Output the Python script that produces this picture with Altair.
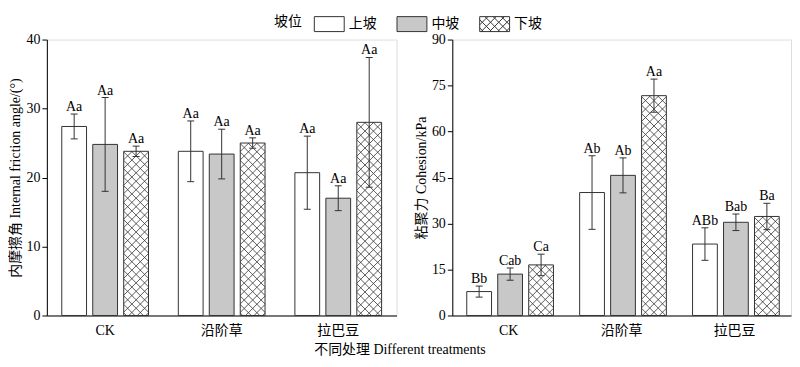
import altair as alt
import pandas as pd

treatments = ["CK", "沿阶草", "拉巴豆"]
slopes = ["上坡", "中坡", "下坡"]

friction_mean = [[27.4, 24.8, 23.8], [23.8, 23.4, 25.0], [20.7, 17.0, 28.0]]
friction_err = [[1.8, 6.8, 0.75], [4.4, 3.6, 0.75], [5.3, 1.8, 9.4]]
friction_lbl = [["Aa", "Aa", "Aa"], ["Aa", "Aa", "Aa"], ["Aa", "Aa", "Aa"]]

cohesion_mean = [[7.8, 13.5, 16.5], [40.1, 45.7, 71.7], [23.3, 30.4, 32.3]]
cohesion_err = [[1.8, 2.0, 3.5], [12.0, 5.7, 5.4], [5.3, 2.7, 4.3]]
cohesion_lbl = [["Bb", "Cab", "Ca"], ["Ab", "Ab", "Aa"], ["ABb", "Bab", "Ba"]]

SERIF = "Liberation Serif, Noto Sans CJK SC"
CJK = "Noto Sans CJK SC"
EDGE = "#333333"


def hatch_lines(x0, x1, y0, y1, s):
    segs = []
    c = (y0 - x1)
    while c <= (y1 - x0):
        a, b = max(x0, y0 - c), min(x1, y1 - c)
        if b > a:
            segs.append((a, a + c, b, b + c))
        c += s
    c = (y0 + x0)
    while c <= (y1 + x1):
        a, b = max(x0, c - y1), min(x1, c - y0)
        if b > a:
            segs.append((a, c - a, b, c - b))
        c += s
    return "".join(f"M{p:.2f},{q:.2f}L{r:.2f},{t:.2f}" for p, q, r, t in segs)


RECT = "M-1,-0.5H1V0.5H-1Z"
LEGEND_HATCH = RECT + hatch_lines(-1, 1, -0.5, 0.5, 0.55)


def make_df(means, errs, lbls):
    rows = []
    for i, t in enumerate(treatments):
        for j, s in enumerate(slopes):
            m, e = means[i][j], errs[i][j]
            rows.append(dict(treatment=t, slope=s, mean=m, lo=m - e, hi=m + e, lbl=lbls[i][j]))
    return pd.DataFrame(rows)


def panel(df, ytitle, ymax, ystep, width, height):
    bar_w = (width / 3 * (1 - 0.256)) / (3 - 0.2) * 0.8
    plot_hatch = hatch_lines(-bar_w / 2, bar_w / 2, 0, 400, 8.5)
    x = alt.X("treatment:N", sort=treatments,
              scale=alt.Scale(domain=treatments, paddingInner=0.256, paddingOuter=0.128),
              axis=alt.Axis(title=None, labelAngle=0, ticks=False, domainColor="black",
                            labelFont=SERIF, labelFontSize=14, labelColor="black", labelPadding=8))
    xo = alt.XOffset("slope:N", sort=slopes, scale=alt.Scale(domain=slopes, paddingInner=0.2))
    y = alt.Y("mean:Q", scale=alt.Scale(domain=[0, ymax], nice=False),
              axis=alt.Axis(title=ytitle, values=list(range(0, ymax + 1, ystep)), grid=False,
                            domainColor="black", tickColor="black", tickSize=5,
                            labelFont=SERIF, labelFontSize=14, labelColor="black", labelPadding=2,
                            titleFont=SERIF, titleFontSize=14, titleFontWeight="normal",
                            titleColor="black", titlePadding=3))
    base = alt.Chart(df)
    legend = alt.Legend(title="坡位", orient="none", legendX=228, legendY=-31,
                        direction="horizontal", titleOrient="left",
                        titleFont=CJK, titleFontSize=14, titleFontWeight="normal",
                        titleColor="black", titlePadding=12,
                        labelFont=CJK, labelFontSize=14, labelColor="black",
                        labelOffset=4, columnPadding=18, symbolSize=900,
                        symbolStrokeWidth=1, symbolOpacity=1)
    fill = alt.Fill("slope:N", sort=slopes,
                    scale=alt.Scale(domain=slopes, range=["white", "#c8c8c8", "white"]),
                    legend=legend)
    shape = alt.Shape("slope:N", sort=slopes,
                      scale=alt.Scale(domain=slopes, range=[RECT, RECT, LEGEND_HATCH]),
                      legend=legend)
    stroke = alt.Stroke("slope:N", sort=slopes,
                        scale=alt.Scale(domain=slopes, range=[EDGE, EDGE, EDGE]),
                        legend=legend)
    bars = base.mark_bar(stroke=EDGE, strokeWidth=1).encode(x=x, xOffset=xo, y=y, fill=fill)
    legend_layer = base.mark_point(filled=True, opacity=0, strokeWidth=1).encode(
        x=x, xOffset=xo, y="mean:Q", fill=fill, shape=shape, stroke=stroke)
    hatch = base.transform_filter(alt.datum.slope == "下坡").mark_point(
        shape=plot_hatch, size=4, filled=False, stroke=EDGE, strokeWidth=0.8,
        opacity=1, clip=True).encode(x=x, xOffset=xo, y="mean:Q")
    rule = base.mark_rule(color=EDGE, strokeWidth=1).encode(x=x, xOffset=xo, y="lo:Q", y2="hi:Q")
    cap_hi = base.mark_tick(color=EDGE, size=7, thickness=1, orient="horizontal", opacity=1).encode(
        x=x, xOffset=xo, y="hi:Q")
    cap_lo = base.mark_tick(color=EDGE, size=7, thickness=1, orient="horizontal", opacity=1).encode(
        x=x, xOffset=xo, y="lo:Q")
    text = base.mark_text(baseline="alphabetic", dy=-3, font=SERIF, fontSize=14, color="black").encode(
        x=x, xOffset=xo, y="hi:Q", text="lbl:N")
    return alt.layer(bars, legend_layer, hatch, rule, cap_hi, cap_lo, text).properties(
        width=width, height=height)


left = panel(make_df(friction_mean, friction_err, friction_lbl),
             "内摩擦角 Internal friction angle/(°)", 40, 10, 351, 277)
right = panel(make_df(cohesion_mean, cohesion_err, cohesion_lbl),
              "粘聚力 Cohesion/kPa", 90, 15, 340, 277)

chart = alt.hconcat(left, right, spacing=16).properties(
    title=alt.TitleParams("不同处理 Different treatments", orient="bottom", anchor="middle",
                          font=SERIF, fontSize=14, fontWeight="normal", color="black", offset=5)
).configure_view(stroke=None).configure(padding=0)

chart.save("out.html", embed_options={"renderer": "svg", "actions": False})
